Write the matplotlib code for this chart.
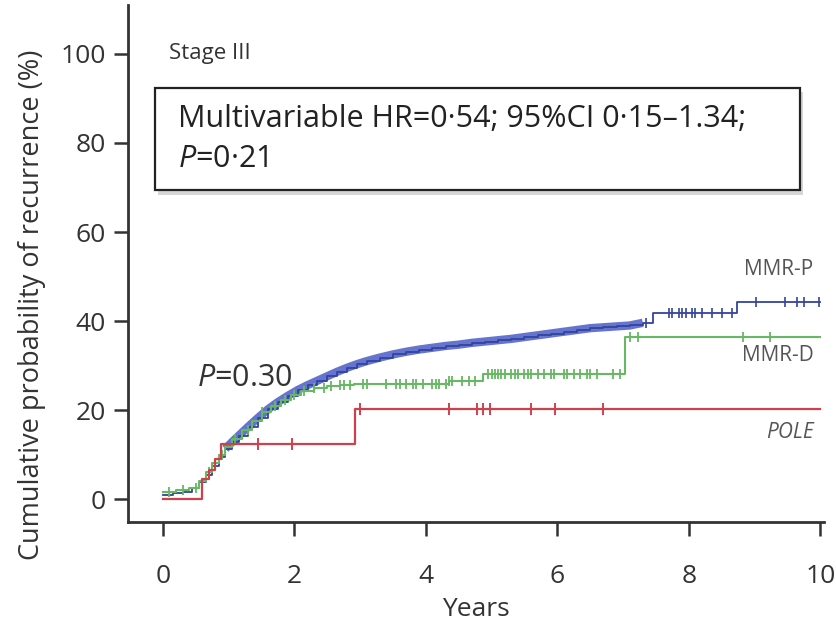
import numpy as np
import matplotlib
matplotlib.use("Agg")
from matplotlib import pyplot as plt
from matplotlib.patches import Rectangle

plt.rcParams['font.family'] = ['Open Sans', 'DejaVu Sans']
plt.rcParams['mathtext.fontset'] = 'custom'
plt.rcParams['mathtext.rm'] = 'Open Sans'
plt.rcParams['mathtext.it'] = 'Open Sans:italic'

# cumulative recurrence (%) step curves
mmrp_t = [0, 0.15, 0.3, 0.45, 0.55, 0.65, 0.75, 0.85, 0.95, 1.05, 1.15, 1.3, 1.45, 1.6, 1.75,
          1.9, 2.05, 2.2, 2.35, 2.5, 2.65, 2.8, 2.95, 3.1, 3.3, 3.5, 3.7, 3.9, 4.1, 4.3, 4.5,
          4.7, 4.9, 5.1, 5.3, 5.5, 5.7, 5.9, 6.1, 6.3, 6.5, 6.7, 6.9, 7.1, 7.3, 7.45, 8.73]
mmrp_v = [1.0, 1.3, 1.7, 2.5, 3.8, 5.5, 7.5, 9.5, 11.3, 12.8, 14.2, 16.3, 18.3, 20.2, 21.8,
          23.2, 24.5, 25.6, 26.6, 27.6, 28.6, 29.5, 30.3, 31.0, 31.8, 32.5, 33.1, 33.6, 34.0, 34.4, 34.7,
          35.1, 35.4, 35.7, 36.0, 36.4, 36.8, 37.2, 37.6, 38.0, 38.4, 38.6, 38.8, 39.0, 39.6, 41.8, 44.3]
mmrd_t = [0, 0.2, 0.4, 0.55, 0.65, 0.75, 0.85, 0.95, 1.05, 1.2, 1.35, 1.5, 1.65, 1.8, 1.95,
          2.1, 2.3, 2.5, 2.7, 2.9, 4.35, 4.87, 7.03]
mmrd_v = [1.5, 2.0, 2.5, 4.0, 6.0, 8.0, 10.0, 11.8, 13.5, 15.5, 17.5, 19.5, 21.0, 22.3, 23.4,
          24.3, 25.0, 25.4, 25.6, 25.9, 26.6, 28.0, 36.4]
pole_t = [0, 0.6, 0.7, 0.8, 0.88, 2.92]
pole_v = [0, 4.5, 6.5, 9.0, 12.4, 20.2]
t_end = 10

# censoring marks (years)
mmrp_cens = [7.35, 7.7, 7.75, 7.85, 7.9, 7.95, 8.05, 8.1, 8.2, 8.35, 8.5, 8.65,
             9.02, 9.46, 9.64, 9.75, 9.98]
mmrd_cens = [0.1, 0.3, 0.5, 0.7, 0.9, 1.1, 1.3, 1.5, 1.7, 1.85, 2.0, 2.15, 2.3, 2.45, 2.55,
             2.7, 2.75, 2.85, 3.05, 3.1, 3.4, 3.55, 3.6, 3.7, 3.8, 3.85, 3.95, 4.1, 4.15, 4.2,
             4.3, 4.35, 4.4, 4.55, 4.65, 4.75, 4.95, 5.0, 5.05, 5.1, 5.15, 5.2, 5.3, 5.35, 5.4,
             5.5, 5.55, 5.6, 5.7, 5.8, 5.9, 5.95, 6.1, 6.15, 6.25, 6.35, 6.45, 6.5, 6.6, 6.85,
             6.95, 7.1, 7.22, 8.82, 9.23]
pole_cens = [1.45, 1.97, 3.0, 4.35, 4.78, 4.87, 4.97, 5.6, 5.96, 6.7]

xticks = [0, 2, 4, 6, 8, 10]
yticks = [0, 20, 40, 60, 80, 100]

c_blue = '#4a5cc6'
c_blue_dark = '#34439e'
c_green = '#66b863'
c_red = '#d0404c'


def step_xy(t, v):
    return list(t) + [t_end], list(v) + [v[-1]]


def at(t, v, x):
    i = np.searchsorted(t, x, side='right') - 1
    return np.asarray(v)[i]


fig = plt.figure(figsize=(8.37, 6.21), dpi=100)
ax = fig.add_axes([0.153, 0.159, 0.831, 0.833])

# blue band (dense censoring marks) then thin step line
bx, by = step_xy(mmrp_t, mmrp_v)
i0, i1 = mmrp_t.index(0.95), mmrp_t.index(7.3)
ax.plot(mmrp_t[i0:i1 + 1], mmrp_v[i0:i1 + 1], color=c_blue, lw=6, alpha=0.85,
        solid_capstyle='butt', zorder=2)
ax.step(bx, by, where='post', color=c_blue_dark, lw=1.3, zorder=3)
ax.plot(mmrp_cens, at(mmrp_t, mmrp_v, mmrp_cens), '|', color=c_blue_dark, ms=7, mew=1.2, zorder=3)

gx, gy = step_xy(mmrd_t, mmrd_v)
ax.step(gx, gy, where='post', color=c_green, lw=1.5, zorder=4)
ax.plot(mmrd_cens, at(mmrd_t, mmrd_v, mmrd_cens), '|', color=c_green, ms=7, mew=1.3, zorder=4)

rx, ry = step_xy(pole_t, pole_v)
ax.step(rx, ry, where='post', color=c_red, lw=1.6, zorder=5)
ax.plot(pole_cens, at(pole_t, pole_v, pole_cens), '|', color=c_red, ms=8, mew=1.4, zorder=5)

ax.set_xlim(-0.53, 10.05)
ax.set_ylim(-5.2, 111)
ax.set_xticks(xticks)
ax.set_yticks(yticks)
ax.tick_params(axis='both', labelsize=19, colors='#333333', width=1.8, length=10, direction='out')
ax.tick_params(axis='x', pad=20)
ax.tick_params(axis='y', pad=6)
for s in ['top', 'right']:
    ax.spines[s].set_visible(False)
for s in ['left', 'bottom']:
    ax.spines[s].set_color('#333333')
    ax.spines[s].set_linewidth(2)
ax.set_xlabel('Years', fontsize=19, color='#333333', labelpad=6)
ax.set_ylabel('Cumulative probability of recurrence (%)', fontsize=19.5, color='#333333')
ax.yaxis.set_label_coords(-0.118, 0.42)

ax.text(0.1, 100, 'Stage III', fontsize=16, color='#333333', va='center')

# hazard ratio box with shadow
ax.add_patch(Rectangle((-0.07, 68.4), 9.81, 23.0, facecolor='#bbbbbb', edgecolor='none',
                       alpha=0.6, zorder=6, clip_on=False))
ax.add_patch(Rectangle((-0.12, 69.4), 9.81, 23.0, facecolor='white', edgecolor='#222222',
                       lw=1.6, zorder=7, clip_on=False))
ax.text(0.23, 85.3, 'Multivariable HR=0·54; 95%CI 0·15–1.34;', fontsize=22, color='#222222',
        va='center', zorder=8)
ax.text(0.23, 76.3, '$P$=0·21', fontsize=22, color='#222222', va='center', zorder=8)

ax.text(0.52, 27.3, '$P$=0.30', fontsize=22, color='#333333', va='center')

ax.text(9.9, 51.5, 'MMR-P', fontsize=15, color='#555555', ha='right', va='center')
ax.text(9.9, 32.3, 'MMR-D', fontsize=15, color='#555555', ha='right', va='center')
ax.text(9.9, 15.0, 'POLE', fontsize=15, color='#555555', ha='right', va='center', style='italic')

fig.savefig('out.png', dpi=100)
